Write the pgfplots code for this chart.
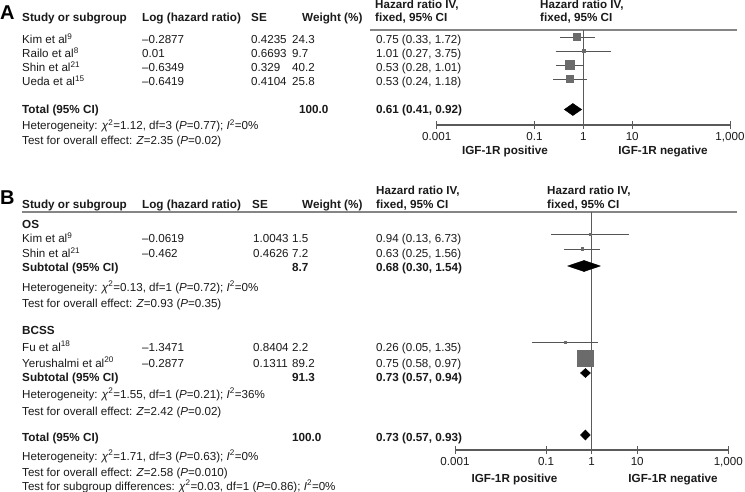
\documentclass[border=0pt]{standalone}
\usepackage{fontspec}
\setmainfont{Liberation Sans}
\usepackage{pgfplots}
\pgfplotsset{compat=1.18}
\definecolor{sq}{HTML}{6B6B6B}
\definecolor{ci}{HTML}{555555}
\definecolor{ax}{HTML}{5A5A5A}
\definecolor{rl}{HTML}{858585}
\definecolor{txt}{HTML}{1A1A1A}
\newcommand\T[3]{\node[anchor=base west,inner sep=0pt,text=txt] at (#1pt,-#2pt) {#3};}
\newcommand\TB[3]{\node[anchor=base west,inner sep=0pt,text=txt,font=\fontsize{11.7}{14}\selectfont\bfseries] at (#1pt,-#2pt) {#3};}
\newcommand\chisq{\textit{χ}\textsuperscript{2}}
\begin{document}
\begin{tikzpicture}[font=\fontsize{11.6}{14}\selectfont]
\path[use as bounding box, fill=white] (0,0) rectangle (745pt,-492pt);
% ---------------- Panel A ----------------
\node[anchor=base west,inner sep=0pt,font=\fontsize{20}{20}\selectfont\bfseries] at (0pt,-20pt) {A};
\T{375}{9}{\bfseries Hazard ratio IV,}
\T{540}{9}{\bfseries Hazard ratio IV,}
\TB{22}{22}{Study or subgroup}
\TB{142}{22}{Log (hazard ratio)}
\TB{251}{22}{SE}
\TB{302}{22}{Weight (\%)}
\TB{375}{22}{fixed, 95\% CI}
\TB{540}{22}{fixed, 95\% CI}
\draw[rl, line width=1.5pt] (370pt,-30pt) -- (737pt,-30pt);
\T{22}{44}{Kim et al\textsuperscript{9}}\T{142}{44}{–0.2877}\T{251}{44}{0.4235}\T{292}{44}{24.3}\T{376}{44}{0.75 (0.33, 1.72)}
\T{22}{58}{Railo et al\textsuperscript{8}}\T{142}{58}{0.01}\T{251}{58}{0.6693}\T{292}{58}{9.7}\T{376}{58}{1.01 (0.27, 3.75)}
\T{22}{72}{Shin et al\textsuperscript{21}}\T{142}{72}{–0.6349}\T{251}{72}{0.329}\T{292}{72}{40.2}\T{376}{72}{0.53 (0.28, 1.01)}
\T{22}{86}{Ueda et al\textsuperscript{15}}\T{142}{86}{–0.6419}\T{251}{86}{0.4104}\T{292}{86}{25.8}\T{376}{86}{0.53 (0.24, 1.18)}
\TB{22}{114}{Total (95\% CI)}\TB{299}{114}{100.0}\TB{376}{114}{0.61 (0.41, 0.92)}
\T{22}{130}{Heterogeneity: \chisq=1.12, df=3 (\textit{P}=0.77); \textit{I}\textsuperscript{2}=0\%}
\T{22}{145}{Test for overall effect: \textit{Z}=2.35 (\textit{P}=0.02)}
\begin{axis}[scale only axis, anchor=south west, at={(436.7pt,-125pt)}, width=293.3pt, height=95pt,
  xmode=log, xmin=0.001, xmax=1000, ymin=-125, ymax=-30,
  enlargelimits=false, clip=false, axis x line*=bottom, axis y line=none,
  xtick={0.001,0.1,1,10,1000}, xticklabels={0.001,0.1,1,10,{1,000}}, xminorticks=false,
  tick align=center, major tick length=8pt, tick style={ax, line width=1pt},
  x axis line style={ax, line width=1.2pt},
  xticklabel style={font=\fontsize{11.6}{14}\selectfont, text=txt}]
\addplot[ax, line width=1pt] coordinates {(1,-125) (1,-30)};
\addplot[ci, line width=0.9pt] coordinates {(0.33,-37) (1.72,-37)};
\addplot[ci, line width=0.9pt] coordinates {(0.27,-51) (3.75,-51)};
\addplot[ci, line width=0.9pt] coordinates {(0.28,-65) (1.01,-65)};
\addplot[ci, line width=0.9pt] coordinates {(0.24,-79) (1.18,-79)};
\addplot[only marks, mark=square*, mark size=3.5pt, mark options={draw=sq, fill=sq, line width=0pt}] coordinates {(0.75,-37)};
\addplot[only marks, mark=square*, mark size=1.5pt, mark options={draw=sq, fill=sq, line width=0pt}] coordinates {(1.01,-51)};
\addplot[only marks, mark=square*, mark size=4.5pt, mark options={draw=sq, fill=sq, line width=0pt}] coordinates {(0.53,-65)};
\addplot[only marks, mark=square*, mark size=3.5pt, mark options={draw=sq, fill=sq, line width=0pt}] coordinates {(0.53,-79)};
\addplot[black, fill=black, line width=0.5pt] coordinates {(0.41,-109.5) (0.61,-103.5) (0.92,-109.5) (0.61,-115.5)} --cycle;
\end{axis}
\node[anchor=base, font=\fontsize{11.7}{14}\selectfont\bfseries, text=txt] at (505pt,-155pt) {IGF-1R positive};
\node[anchor=base, font=\fontsize{11.7}{14}\selectfont\bfseries, text=txt] at (663pt,-155pt) {IGF-1R negative};
% ---------------- Panel B ----------------
\node[anchor=base west,inner sep=0pt,font=\fontsize{20}{20}\selectfont\bfseries] at (0pt,-205pt) {B};
\T{376}{195}{\bfseries Hazard ratio IV,}
\T{547}{195}{\bfseries Hazard ratio IV,}
\TB{22}{208}{Study or subgroup}
\TB{142}{208}{Log (hazard ratio)}
\TB{252}{208}{SE}
\TB{302}{208}{Weight (\%)}
\TB{376}{208}{fixed, 95\% CI}
\TB{547}{208}{fixed, 95\% CI}
\draw[rl, line width=1.5pt] (22pt,-212pt) -- (737pt,-212pt);
\TB{22}{229}{OS}
\T{22}{243}{Kim et al\textsuperscript{9}}\T{142}{243}{–0.0619}\T{253}{243}{1.0043}\T{292}{243}{1.5}\T{376}{243}{0.94 (0.13, 6.73)}
\T{22}{258}{Shin et al\textsuperscript{21}}\T{142}{258}{–0.462}\T{253}{258}{0.4626}\T{292}{258}{7.2}\T{376}{258}{0.63 (0.25, 1.56)}
\TB{22}{272}{Subtotal (95\% CI)}\TB{292}{272}{8.7}\TB{376}{272}{0.68 (0.30, 1.54)}
\T{22}{291}{Heterogeneity: \chisq=0.13, df=1 (\textit{P}=0.72); \textit{I}\textsuperscript{2}=0\%}
\T{22}{307}{Test for overall effect: \textit{Z}=0.93 (\textit{P}=0.35)}
\TB{22}{334}{BCSS}
\T{22}{351}{Fu et al\textsuperscript{18}}\T{142}{351}{–1.3471}\T{253}{351}{0.8404}\T{292}{351}{2.2}\T{376}{351}{0.26 (0.05, 1.35)}
\T{22}{367}{Yerushalmi et al\textsuperscript{20}}\T{142}{367}{–0.2877}\T{253}{367}{0.1311}\T{292}{367}{89.2}\T{376}{367}{0.75 (0.58, 0.97)}
\TB{22}{381}{Subtotal (95\% CI)}\TB{292}{381}{91.3}\TB{376}{381}{0.73 (0.57, 0.94)}
\T{22}{398}{Heterogeneity: \chisq=1.55, df=1 (\textit{P}=0.21); \textit{I}\textsuperscript{2}=36\%}
\T{22}{415}{Test for overall effect: \textit{Z}=2.42 (\textit{P}=0.02)}
\TB{22}{441}{Total (95\% CI)}\TB{292}{441}{100.0}\TB{376}{441}{0.73 (0.57, 0.93)}
\T{22}{460}{Heterogeneity: \chisq=1.71, df=3 (\textit{P}=0.63); \textit{I}\textsuperscript{2}=0\%}
\T{22}{476}{Test for overall effect: \textit{Z}=2.58 (\textit{P}=0.010)}
\T{22}{490}{Test for subgroup differences: \chisq=0.03, df=1 (\textit{P}=0.86); \textit{I}\textsuperscript{2}=0\%}
\begin{axis}[scale only axis, anchor=south west, at={(455pt,-450pt)}, width=273.3pt, height=238pt,
  xmode=log, xmin=0.001, xmax=1000, ymin=-450, ymax=-212,
  enlargelimits=false, clip=false, axis x line*=bottom, axis y line=none,
  xtick={0.001,0.1,1,10,1000}, xticklabels={0.001,0.1,1,10,{1,000}}, xminorticks=false,
  tick align=center, major tick length=8pt, tick style={ax, line width=1pt},
  x axis line style={ax, line width=1.2pt},
  xticklabel style={font=\fontsize{11.6}{14}\selectfont, text=txt}]
\addplot[ax, line width=1pt] coordinates {(1,-450) (1,-212)};
\addplot[ci, line width=0.9pt] coordinates {(0.13,-234) (6.73,-234)};
\addplot[ci, line width=0.9pt] coordinates {(0.25,-249) (1.56,-249)};
\addplot[ci, line width=0.9pt] coordinates {(0.05,-342) (1.35,-342)};
\addplot[ci, line width=0.9pt] coordinates {(0.58,-358) (0.97,-358)};
\addplot[only marks, mark=square*, mark size=1pt, mark options={draw=sq, fill=sq, line width=0pt}] coordinates {(0.94,-234)};
\addplot[only marks, mark=square*, mark size=1.2pt, mark options={draw=sq, fill=sq, line width=0pt}] coordinates {(0.63,-249)};
\addplot[only marks, mark=square*, mark size=1pt, mark options={draw=sq, fill=sq, line width=0pt}] coordinates {(0.26,-342)};
\addplot[only marks, mark=square*, mark size=8pt, mark options={draw=sq, fill=sq, line width=0pt}] coordinates {(0.75,-358)};
\addplot[black, fill=black, line width=0.5pt] coordinates {(0.30,-266) (0.68,-260.5) (1.54,-266) (0.68,-271.5)} --cycle;
\addplot[black, fill=black, line width=0.5pt] coordinates {(0.57,-373) (0.73,-368.5) (0.94,-373) (0.73,-377.5)} --cycle;
\addplot[black, fill=black, line width=0.5pt] coordinates {(0.57,-435) (0.73,-430) (0.93,-435) (0.73,-440)} --cycle;
\end{axis}
\node[anchor=base, font=\fontsize{11.7}{14}\selectfont\bfseries, text=txt] at (514.5pt,-482pt) {IGF-1R positive};
\node[anchor=base, font=\fontsize{11.7}{14}\selectfont\bfseries, text=txt] at (673pt,-482pt) {IGF-1R negative};
\end{tikzpicture}
\end{document}
